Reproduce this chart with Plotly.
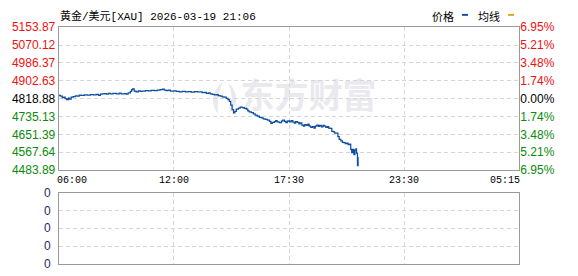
import plotly.graph_objects as go

# ---------------- data ----------------
title_text = "黄金/美元[XAU] 2026-03-19 21:06"
legend_names = ["价格", "均线"]
prev_close = 4818.88

price_axis_labels = ["5153.87", "5070.12", "4986.37", "4902.63", "4818.88",
                     "4735.13", "4651.39", "4567.64", "4483.89"]
pct_axis_labels = ["6.95%", "5.21%", "3.48%", "1.74%", "0.00%",
                   "1.74%", "3.48%", "5.21%", "6.95%"]
time_ticks = ["06:00", "12:00", "17:30", "23:30", "05:15"]
volume_labels = ["0", "0", "0", "0", "0"]

times = [
    "06:00", "06:05", "06:11", "06:16", "06:20", "06:25", "06:30", "06:34", "06:39", "06:45",
    "06:52", "06:58", "07:04", "07:10", "07:20", "07:29", "07:39", "07:48", "07:57", "08:04",
    "08:10", "08:16", "08:22", "08:29", "08:35", "08:41", "08:50", "09:00", "09:09", "09:15",
    "09:25", "09:31", "09:37", "09:44", "09:48", "09:51", "09:56", "10:02", "10:09", "10:15",
    "10:21", "10:31", "10:40", "10:49", "10:59", "11:08", "11:17", "11:24", "11:30", "11:36",
    "11:42", "11:49", "12:00",
    "12:07", "12:16", "12:24", "12:33", "12:41", "12:50", "12:59", "13:07", "13:16", "13:21",
    "13:27", "13:33", "13:39", "13:44", "13:50", "13:56", "14:02", "14:07", "14:13", "14:19",
    "14:24", "14:30", "14:35", "14:39", "14:43", "14:47", "14:51", "14:55", "14:59", "15:05",
    "15:10", "15:16", "15:22", "15:28", "15:32", "15:36", "15:42", "15:48", "15:53", "15:59",
    "16:05", "16:11", "16:16", "16:22", "16:28", "16:34", "16:38", "16:42", "16:48", "16:52",
    "16:56", "17:02", "17:08", "17:12", "17:17", "17:21", "17:25", "17:28",
    "17:32", "17:37", "17:42", "17:47", "17:51", "17:56", "18:01", "18:05", "18:10", "18:15",
    "18:19", "18:24", "18:29", "18:33", "18:38", "18:43", "18:48", "18:52", "18:57", "19:02",
    "19:06", "19:11", "19:16", "19:20", "19:25", "19:30", "19:34", "19:39", "19:44", "19:49",
    "19:53", "19:58", "20:03", "20:07", "20:12", "20:17", "20:21", "20:26", "20:31", "20:35",
    "20:40", "20:43", "20:46", "20:50", "20:53", "20:56", "20:59", "21:01", "21:04", "21:06",
]
prices = [
    4834.5, 4830.0, 4823.3, 4825.6, 4818.9, 4814.4, 4821.1, 4816.7, 4825.6, 4827.8,
    4832.2, 4830.9, 4835.4, 4833.6, 4836.7, 4835.4, 4837.6, 4836.3, 4838.9, 4834.5,
    4839.8, 4841.2, 4842.5, 4839.8, 4843.4, 4841.2, 4843.4, 4840.7, 4844.3, 4841.2,
    4842.5, 4839.8, 4845.6, 4852.3, 4861.2, 4864.8, 4854.5, 4851.0, 4855.4, 4852.3,
    4854.5, 4856.7, 4855.4, 4857.6, 4855.9, 4859.0, 4861.2, 4863.4, 4859.0, 4856.7,
    4858.1, 4854.5, 4855.4,
    4852.3, 4850.1, 4852.3, 4850.5, 4851.4, 4849.6, 4851.8, 4850.1, 4851.0, 4846.9,
    4847.8, 4843.4, 4845.2, 4840.7, 4838.9, 4836.3, 4837.6, 4832.7, 4830.9, 4827.3,
    4825.6, 4820.2, 4814.4, 4805.5, 4787.7, 4767.7, 4752.1, 4758.8, 4769.9, 4774.3,
    4778.8, 4776.6, 4773.0, 4769.9, 4761.0, 4756.5, 4753.4, 4747.6, 4740.9, 4736.5,
    4731.1, 4728.5, 4724.0, 4721.8, 4717.8, 4712.0, 4702.2, 4707.5, 4710.6, 4715.1,
    4709.8, 4706.2, 4713.3, 4717.3, 4712.0, 4706.6, 4712.9, 4714.2,
    4709.8, 4715.1, 4708.9, 4704.0, 4710.6, 4707.5, 4700.8, 4705.3, 4694.2, 4689.7,
    4696.4, 4692.8, 4698.6, 4689.7, 4683.9, 4687.5, 4680.8, 4689.7, 4694.2, 4688.4,
    4692.8, 4686.6, 4693.7, 4689.7, 4683.9, 4687.5, 4680.8, 4678.6, 4665.2, 4663.0,
    4657.2, 4656.3, 4640.7, 4627.4, 4620.7, 4614.0, 4611.8, 4607.3, 4609.5, 4602.9,
    4605.1, 4580.6, 4565.0, 4580.6, 4556.1, 4576.1, 4582.8, 4562.8, 4504.9, 4545.0,
]

# ---------------- helpers ----------------
def to_min(t):
    h, m = t.split(":")
    v = int(h) * 60 + int(m)
    if v < 6 * 60:
        v += 1440
    return v

tick_min = [to_min(t) for t in time_ticks]

def to_pos(t):
    v = to_min(t)
    for i in range(len(tick_min) - 1):
        a, b = tick_min[i], tick_min[i + 1]
        if a <= v <= b:
            return i + (v - a) / (b - a)
    return len(tick_min) - 1

xs = [to_pos(t) for t in times]
price_vals = [float(s) for s in price_axis_labels]
ymax, ymin = max(price_vals), min(price_vals)

RED, GREEN, BLACK = "#f01010", "#0a8a0a", "#000000"
def lab_color(v):
    if abs(v - prev_close) < 0.01:
        return BLACK
    return RED if v > prev_close else GREEN

left_text = ['<span style="color:%s">%s</span>' % (lab_color(v), s)
             for v, s in zip(price_vals, price_axis_labels)]
right_text = ['<span style="color:%s">%s</span>' % (lab_color(v), s)
              for v, s in zip(price_vals, pct_axis_labels)]

W, H = 578, 276
def px(x):
    return x / W
def py(y):
    return 1 - y / H

X0, X1 = 58.7, 519.3
GRID = "#d6d6d6"
BORDER = "#9a9a9a"
SANS = "Liberation Sans, Arial, sans-serif"
MONO = "Liberation Mono, Noto Sans CJK SC, monospace"
CJK = "Noto Sans CJK SC, sans-serif"

fig = go.Figure()

fig.add_trace(go.Scatter(
    x=xs, y=prices, mode="lines",
    line=dict(color="#0c4da2", width=1.25, shape="hv"),
    xaxis="x", yaxis="y", hoverinfo="skip", showlegend=False,
))
# invisible trace for right axis
fig.add_trace(go.Scatter(
    x=[xs[0]], y=[prices[0]], mode="markers", marker=dict(opacity=0),
    xaxis="x", yaxis="y2", hoverinfo="skip", showlegend=False,
))

axis_common = dict(
    showline=True, linecolor=BORDER, linewidth=1, mirror=True,
    showgrid=True, gridcolor=GRID, griddash="4px,3px", gridwidth=1,
    zeroline=False, fixedrange=True,
)

fig.update_layout(
    width=W, height=H,
    margin=dict(l=0, r=0, t=0, b=0),
    paper_bgcolor="white", plot_bgcolor="white",
    showlegend=False,
    xaxis=dict(domain=[px(X0), px(X1)], range=[0, len(time_ticks) - 1],
               tickvals=list(range(len(time_ticks))), showticklabels=False,
               anchor="y", **axis_common),
    yaxis=dict(domain=[py(171.7), py(21.3)], range=[ymin, ymax],
               tickvals=price_vals, ticktext=left_text, ticks="",
               tickfont=dict(family=SANS, size=12), anchor="x", **axis_common),
    yaxis2=dict(overlaying="y", side="right", range=[ymin, ymax],
                tickvals=price_vals, ticktext=right_text, ticks="",
                tickfont=dict(family=SANS, size=12), showgrid=False,
                zeroline=False, showline=False, anchor="x", fixedrange=True),
    xaxis3=dict(domain=[px(X0), px(X1)], range=[0, len(time_ticks) - 1],
                tickvals=list(range(len(time_ticks))), showticklabels=False,
                anchor="y3", **axis_common),
    yaxis3=dict(domain=[py(270.5), py(196)], range=[0, len(volume_labels) - 1],
                tickvals=list(range(len(volume_labels))), showticklabels=False,
                anchor="x3", **axis_common),
)

annotations = []
# title
annotations.append(dict(text=title_text, x=px(58.5), y=py(9), xref="paper", yref="paper",
                        xanchor="left", yanchor="middle", showarrow=False, xshift=-1,
                        font=dict(family=MONO, size=11, color="#000")))
# legend
annotations.append(dict(text=legend_names[0], x=px(443), y=py(9.5), xref="paper", yref="paper",
                        xanchor="center", yanchor="middle", showarrow=False,
                        font=dict(family=CJK, size=11, color="#000")))
annotations.append(dict(text=legend_names[1], x=px(488.5), y=py(9.5), xref="paper", yref="paper",
                        xanchor="center", yanchor="middle", showarrow=False,
                        font=dict(family=CJK, size=11, color="#000")))
# time labels
for i, t in enumerate(time_ticks):
    anchor, shift = "center", 0
    if i == 0:
        anchor, shift = "left", -4
    elif i == len(time_ticks) - 1:
        anchor, shift = "right", 3
    annotations.append(dict(text=t, x=i, y=py(182.5), xref="x", yref="paper",
                            xanchor=anchor, yanchor="middle", showarrow=False, xshift=shift,
                            font=dict(family=MONO, size=10, color="#000")))
# volume labels
for i, s in enumerate(volume_labels):
    annotations.append(dict(text=s, x=px(52.5), y=i, xref="paper", yref="y3",
                            xanchor="right", yanchor="middle", showarrow=False,
                            font=dict(family=SANS, size=12, color="#1c2f66")))
fig.update_layout(annotations=annotations)

shapes = []
# legend swatches
shapes.append(dict(type="rect", xref="paper", yref="paper",
                   x0=px(462), x1=px(468), y0=py(9.3), y1=py(7.3),
                   fillcolor="#0c4da2", line=dict(width=0)))
shapes.append(dict(type="rect", xref="paper", yref="paper",
                   x0=px(508), x1=px(514), y0=py(9.3), y1=py(7.3),
                   fillcolor="#e0a41c", line=dict(width=0)))
# watermark text
WM = "#e9e9ee"
shapes.append(dict(type="rect", xref="paper", yref="paper",
                   x0=px(238), x1=px(379), y0=py(113), y1=py(80),
                   line=dict(width=0), fillcolor="rgba(0,0,0,0)", layer="below",
                   label=dict(text="东方财富", textposition="middle center",
                              font=dict(family=CJK, size=34, color=WM, weight="bold"))))
# watermark logo (two swooshes)
def pth(pts):
    s = "M %f,%f" % (px(pts[0][0]), py(pts[0][1]))
    i = 1
    while i < len(pts):
        c, e = pts[i], pts[i + 1]
        s += " Q %f,%f %f,%f" % (px(c[0]), py(c[1]), px(e[0]), py(e[1]))
        i += 2
    return s + " Z"
shapes.append(dict(type="path", xref="paper", yref="paper", layer="below",
                   path=pth([(223, 78), (206, 95), (218, 113), (216, 96), (223, 78)]),
                   fillcolor=WM, line=dict(width=0)))
shapes.append(dict(type="path", xref="paper", yref="paper", layer="below",
                   path=pth([(228, 79), (244, 96), (229, 113), (235, 96), (228, 79)]),
                   fillcolor=WM, line=dict(width=0)))
fig.update_layout(shapes=shapes)

fig.write_html("out.html", config={"displayModeBar": False})
